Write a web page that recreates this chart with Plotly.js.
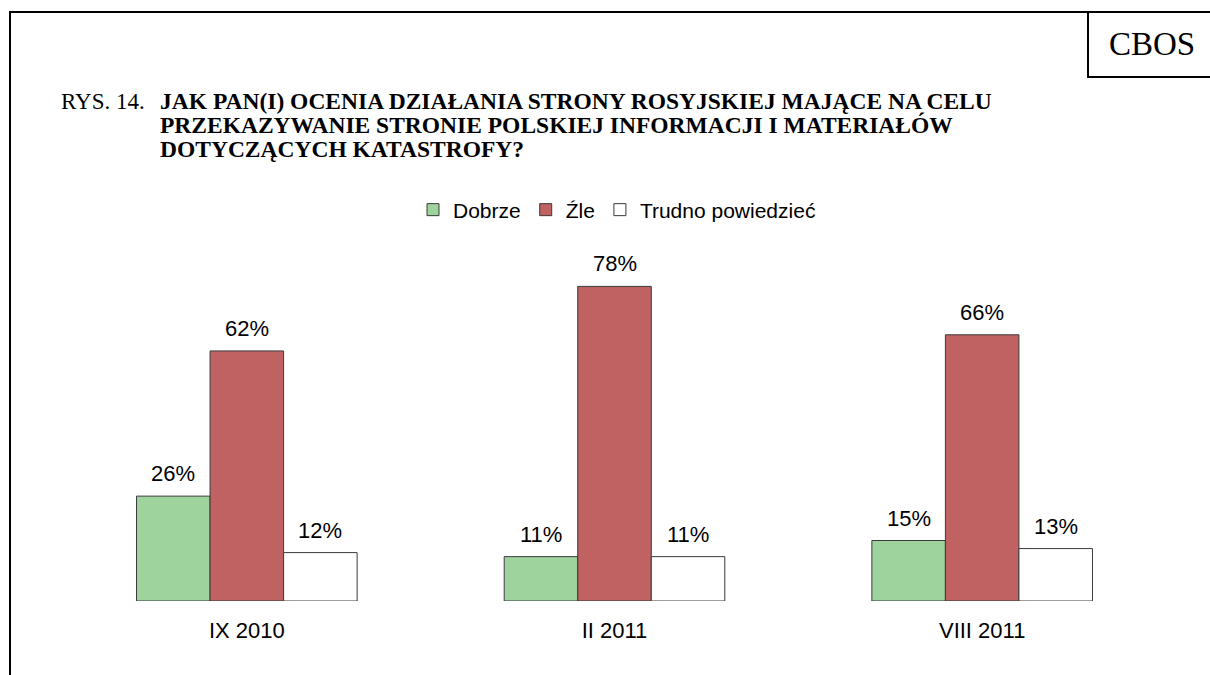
<!DOCTYPE html>
<html>
<head>
<meta charset="utf-8">
<script src="https://cdn.plot.ly/plotly-3.0.1.min.js"></script>
<style>html,body{margin:0;padding:0;background:#fff;}#chart{width:1210px;height:675px;}</style>
</head>
<body>
<div id="chart"></div>
<script>
// ---- data ----
const categories = ["IX 2010", "II 2011", "VIII 2011"];
const seriesNames = ["Dobrze", "Źle", "Trudno powiedzieć"];
const dobrze = [26, 11, 15];
const zle = [62, 78, 66];
const trudno = [12, 11, 13];
const titlePrefix = "RYS. 14.";
const titleLines = [
  "JAK PAN(I) OCENIA DZIAŁANIA STRONY ROSYJSKIEJ MAJĄCE NA CELU",
  "PRZEKAZYWANIE STRONIE POLSKIEJ INFORMACJI I MATERIAŁÓW",
  "DOTYCZĄCYCH KATASTROFY?"
];
const sourceLabel = "CBOS";

// ---- layout geometry ----
const W = 1210, H = 675;
const M = {l: 63, r: 44, t: 238, b: 74};
const PW = W - M.l - M.r, PH = H - M.t - M.b;
const px = x => (x - M.l) / PW;
const py = y => (H - M.b - y) / PH;

const colors = ["#9fd39e", "#c06261", "#ffffff"];
const values = [dobrze, zle, trudno];
const bargap = 0.4;
const bw = (1 - bargap) / values.length;

const traces = values.map((v, j) => ({
  type: "bar",
  name: seriesNames[j],
  x: categories,
  y: v,
  marker: {color: colors[j], line: {color: "#3a3a3a", width: 1}},
  hoverinfo: "skip"
}));

const annotations = [];
values.forEach((v, j) => {
  v.forEach((val, i) => {
    annotations.push({
      x: i + (j - (values.length - 1) / 2) * bw,
      y: val, xref: "x", yref: "y",
      text: val + "%", showarrow: false,
      yanchor: "bottom", yshift: 8,
      font: {family: "Liberation Sans, Arial, sans-serif", size: 22, color: "#000"}
    });
  });
});

annotations.push({
  xref: "paper", yref: "paper", x: px(59), y: py(101), xanchor: "left", yanchor: "middle",
  text: titlePrefix, showarrow: false,
  font: {family: "Liberation Serif, Times New Roman, serif", size: 23, color: "#000"}
});
titleLines.forEach((t, k) => {
  annotations.push({
    xref: "paper", yref: "paper", x: px(158), y: py(101 + 24 * k), xanchor: "left", yanchor: "middle",
    text: "<b>" + t + "</b>", showarrow: false,
    font: {family: "Liberation Serif, Times New Roman, serif", size: 23.5, color: "#000"}
  });
});
annotations.push({
  xref: "paper", yref: "paper", x: px(1152), y: py(44), xanchor: "center", yanchor: "middle",
  text: sourceLabel, showarrow: false,
  font: {family: "Liberation Serif, Times New Roman, serif", size: 33, color: "#000"}
});

const shapes = [
  {type: "line", xref: "paper", yref: "paper", x0: px(10), x1: px(1212), y0: py(12), y1: py(12), line: {color: "#000", width: 2}},
  {type: "line", xref: "paper", yref: "paper", x0: px(10), x1: px(10), y0: py(11), y1: py(677), line: {color: "#000", width: 2}},
  {type: "line", xref: "paper", yref: "paper", x0: px(1088), x1: px(1088), y0: py(12), y1: py(77), line: {color: "#000", width: 2}},
  {type: "line", xref: "paper", yref: "paper", x0: px(1087), x1: px(1212), y0: py(77), y1: py(77), line: {color: "#000", width: 2}}
];

const layout = {
  width: W, height: H,
  margin: M,
  paper_bgcolor: "#fff", plot_bgcolor: "#fff",
  barmode: "group", bargap: bargap, bargroupgap: 0,
  showlegend: true,
  legend: {
    orientation: "h", x: px(617), xanchor: "center", y: py(210), yanchor: "middle",
    font: {family: "Liberation Sans, Arial, sans-serif", size: 21, color: "#000"},
    itemwidth: 30, traceorder: "normal"
  },
  xaxis: {
    type: "category", range: [-0.5, 2.5], showgrid: false, zeroline: false, showline: false,
    ticks: "", tickfont: {family: "Liberation Sans, Arial, sans-serif", size: 22, color: "#000"},
    ticklabelstandoff: 14
  },
  yaxis: {range: [0, 90], visible: false, showgrid: false, zeroline: false},
  annotations: annotations,
  shapes: shapes
};

Plotly.newPlot("chart", traces, layout, {staticPlot: true});
</script>
</body>
</html>
